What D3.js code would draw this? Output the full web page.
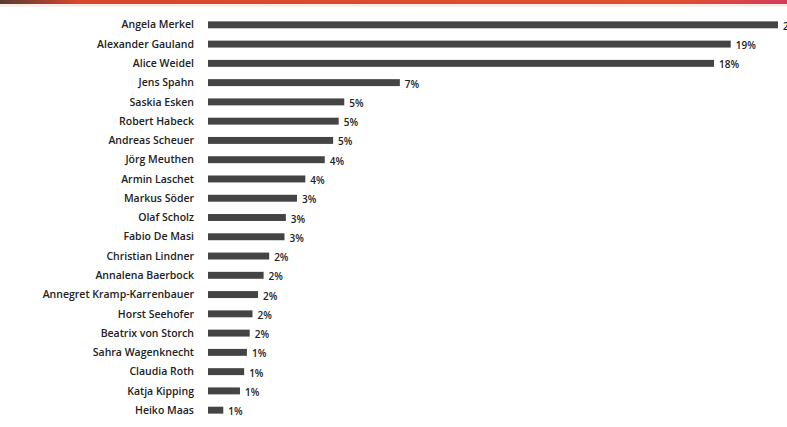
<!DOCTYPE html>
<html>
<head>
<meta charset="utf-8">
<script src="https://cdn.jsdelivr.net/npm/d3@7"></script>
<style>
  body { margin: 0; background: #fff; }
  text { font-family: "Open Sans", "DejaVu Sans", sans-serif; }
</style>
</head>
<body>
<div id="chart"></div>
<script>
// names and shares
const names = ["Angela Merkel", "Alexander Gauland", "Alice Weidel", "Jens Spahn", "Saskia Esken",
  "Robert Habeck", "Andreas Scheuer", "Jörg Meuthen", "Armin Laschet", "Markus Söder",
  "Olaf Scholz", "Fabio De Masi", "Christian Lindner", "Annalena Baerbock",
  "Annegret Kramp-Karrenbauer", "Horst Seehofer", "Beatrix von Storch", "Sahra Wagenknecht",
  "Claudia Roth", "Katja Kipping", "Heiko Maas"];
const shares = [20.5, 18.8, 18.2, 6.9, 4.9, 4.7, 4.5, 4.2, 3.5, 3.2, 2.8, 2.75, 2.2, 2.0,
  1.8, 1.6, 1.5, 1.4, 1.3, 1.15, 0.55];

let width = 787, height = 427;
let margin = {top: 17.5, right: 9, bottom: 9.5, left: 208};

let svg = d3.select("#chart").append("svg")
  .attr("width", width)
  .attr("height", height);

// header strip along the top
let grad = svg.append("defs").append("linearGradient").attr("id", "hdr");
grad.append("stop").attr("offset", "0%").attr("stop-color", "#5a3a30");
grad.append("stop").attr("offset", "10%").attr("stop-color", "#d9472c");
grad.append("stop").attr("offset", "85%").attr("stop-color", "#e0502e");
grad.append("stop").attr("offset", "100%").attr("stop-color", "#d63a5a");
svg.append("rect").attr("x", 0).attr("y", 0).attr("width", width).attr("height", 4)
  .attr("fill", "url(#hdr)");
svg.append("rect").attr("x", 0).attr("y", 4).attr("width", width).attr("height", 3)
  .attr("fill", "#f7e3dc").attr("opacity", 0.6);

let x = d3.scaleLinear()
  .domain([0, d3.max(shares)])
  .range([margin.left, width - margin.right]);

let y = d3.scaleBand()
  .domain(names)
  .range([margin.top, height - margin.bottom])
  .paddingInner(0.64)
  .paddingOuter(0.2);

let g = svg.append("g");

// bars
g.selectAll(".bar")
  .data(names)
  .enter()
  .append("rect")
    .attr("class", "bar")
    .attr("x", x(0))
    .attr("y", d => y(d))
    .attr("width", (d, i) => x(shares[i]) - x(0))
    .attr("height", y.bandwidth())
    .attr("fill", "#444");

// name labels
g.selectAll(".name")
  .data(names)
  .enter()
  .append("text")
    .attr("class", "name")
    .attr("x", margin.left - 14)
    .attr("y", d => y(d) + y.bandwidth() / 2)
    .attr("dy", "0.35em")
    .attr("text-anchor", "end")
    .style("font-size", "10.5px")
    .style("font-weight", 600)
    .style("fill", "#222")
    .text(d => d);

// value labels
g.selectAll(".val")
  .data(names)
  .enter()
  .append("text")
    .attr("class", "val")
    .attr("x", (d, i) => x(shares[i]) + 5)
    .attr("y", d => y(d) + y.bandwidth() / 2 + 1.5)
    .attr("dy", "0.35em")
    .style("font-size", "10px")
    .style("font-weight", 600)
    .style("fill", "#222")
    .text((d, i) => Math.round(shares[i]) + "%");
</script>
</body>
</html>
